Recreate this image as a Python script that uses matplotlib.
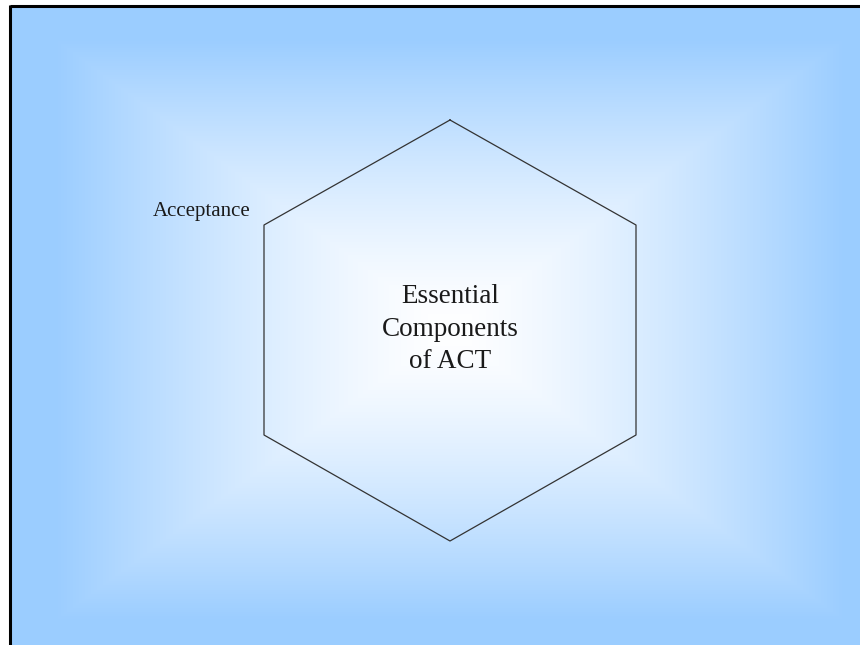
import numpy as np
import matplotlib
matplotlib.use('Agg')
import matplotlib.pyplot as plt

# slide content
hex_x = [450, 636, 636, 450, 264, 264, 450]
hex_y = [120, 225, 435, 541, 435, 225, 120]
center_text = 'Essential\nComponents\nof ACT'
corner_label = 'Acceptance'

# figure in pixel coordinates
fig = plt.figure(figsize=(8.6, 6.45), dpi=100)
fig.patch.set_facecolor('white')
ax = fig.add_axes([0, 0, 1, 1])
ax.axis('off')

# rectangular path gradient: white centre -> light blue edges
slide_l, slide_t, slide_r, slide_b = 11, 7, 889, 653
cx, cy = (slide_l + slide_r) / 2, (slide_t + slide_b) / 2
hw, hh = (slide_r - slide_l) / 2, (slide_b - slide_t) / 2
xs = np.arange(slide_l, 860) + 0.5
ys = np.arange(slide_t, 645) + 0.5
X, Y = np.meshgrid(xs, ys)
t = np.maximum(np.abs(X - cx) / hw, np.abs(Y - cy) / hh)
f = np.clip(t / 0.9, 0, 1) ** 1.35
edge = np.array([155, 205, 255]) / 255
inner = np.array([1.0, 1.0, 1.0])
img = inner * (1 - f[..., None]) + edge * f[..., None]
ax.imshow(img, extent=[slide_l, 860, 645, slide_t], interpolation='bilinear', zorder=0)
ax.set_xlim(0, 860)
ax.set_ylim(645, 0)

# slide border (top and left only, rest is cropped)
ax.plot([10, 860], [6, 6], color='black', lw=2.2, solid_capstyle='butt', zorder=3)
ax.plot([10, 10], [5, 645], color='black', lw=2.2, solid_capstyle='butt', zorder=3)

# hexagon
ax.plot(hex_x, hex_y, color='#333333', lw=0.9, zorder=2)

ax.text(450, 329, center_text, ha='center', va='center', fontsize=19.5,
        family='Liberation Serif', color='#1a1a1a', linespacing=1.4)
ax.text(153, 216, corner_label, ha='left', va='baseline', fontsize=15,
        family='Liberation Serif', color='#1a1a1a')

fig.savefig('out.png', dpi=100)
